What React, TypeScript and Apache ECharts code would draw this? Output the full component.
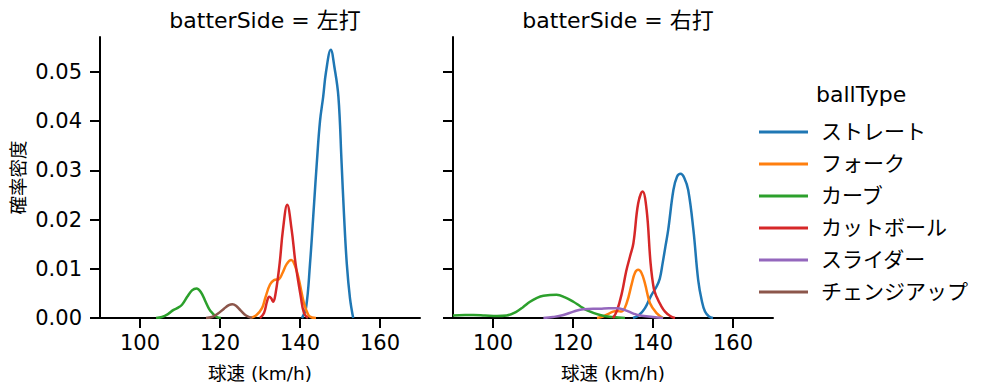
import React, { useEffect, useRef } from "react";
import * as echarts from "echarts";

const panelTitles = ["batterSide = 左打", "batterSide = 右打"];
const ballTypes = ["ストレート", "フォーク", "カーブ", "カットボール", "スライダー", "チェンジアップ"];
const palette = ["#1f77b4", "#ff7f0e", "#2ca02c", "#d62728", "#9467bd", "#8c564b"];
const xTicks = [100, 120, 140, 160];
const yTicks = [0, 0.01, 0.02, 0.03, 0.04, 0.05];

// Left panel (左打)
const leftStraight = [[140.5,0],[141.5,0.002],[142.5,0.011],[143.5,0.023],[144.2,0.0315],[145,0.04],[145.8,0.045],[146.5,0.05],[147.7,0.0545],[148.6,0.051],[149.6,0.045],[150.4,0.0315],[151,0.021],[151.7,0.011],[152.5,0.004],[153.3,0]];
const leftFork = [[127.5,0],[129,0.0005],[130.5,0.002],[131.4,0.0043],[132.5,0.0068],[133.5,0.0077],[134.75,0.0079],[135.6,0.0091],[136.7,0.011],[137.8,0.0118],[138.8,0.0105],[139.75,0.0077],[141,0.003],[142.1,0.0006],[143,0.0001],[144,0]];
const leftCurve = [[104,0],[105.5,0.0002],[107,0.0008],[108.3,0.0016],[109.3,0.002],[110.5,0.0027],[111.8,0.0043],[113,0.0056],[114.1,0.006],[115.2,0.0053],[116.4,0.0033],[117.3,0.0018],[118.1,0.001],[119.2,0.0002],[120.2,0]];
const leftCutter = [[130,0],[131,0.001],[131.8,0.0035],[132.3,0.0043],[132.8,0.004],[133.3,0.0033],[133.9,0.005],[134.9,0.011],[135.75,0.018],[136.8,0.023],[137.9,0.018],[138.9,0.011],[140.2,0.0043],[141,0.001],[142,0]];
const leftChangeup = [[116.5,0],[118,0.0002],[119.5,0.0009],[121,0.0019],[122.2,0.0026],[123.1,0.0028],[124,0.0025],[125.2,0.0015],[126.5,0.0005],[128,0]];

// Right panel (右打)
const rightStraight = [[135,0],[136.5,0.0006],[138,0.002],[139.5,0.0045],[140.9,0.0064],[141.7,0.008],[142.4,0.0111],[143.1,0.0145],[143.8,0.0179],[145.1,0.026],[146,0.0287],[146.9,0.0293],[147.8,0.0285],[148.8,0.026],[150.1,0.0179],[151.3,0.0077],[152.2,0.0035],[153,0.0013],[154,0.0003],[155,0]];
const rightFork = [[126,0],[127.5,0.0003],[129,0.0009],[130,0.0013],[131,0.0014],[132.1,0.0013],[133.4,0.003],[134.7,0.007],[135.5,0.0092],[136.3,0.0098],[137.1,0.0092],[138,0.007],[139.25,0.003],[140.9,0.001],[142.5,0]];
const rightCurve = [[90,0.0005],[93,0.0006],[95.1,0.0006],[98,0.0005],[101,0.0004],[103.4,0.0005],[105.9,0.0013],[107.5,0.0022],[109.25,0.0033],[111,0.0041],[112.6,0.0045],[115.9,0.0047],[118,0.0042],[120.1,0.0033],[121.8,0.0024],[123.4,0.0016],[126.75,0.0006],[130,0.0002],[133,0]];
const rightCutter = [[130,0],[131,0.0015],[132.2,0.005],[133.3,0.0095],[134.25,0.0125],[135.1,0.0152],[136.3,0.0233],[137.4,0.0257],[138.4,0.022],[139.4,0.0111],[140.2,0.006],[140.9,0.0043],[142,0.0025],[143,0.0013],[144.3,0.0004],[145.5,0]];
const rightSlider = [[112.6,0],[115,0.0002],[117.6,0.0006],[120.1,0.0013],[122.6,0.0018],[126.75,0.0019],[129,0.002],[130.9,0.002],[133,0.0016],[135.1,0.0009],[136.75,0.0005],[140,0.0002],[142.5,0]];

const panelSeries: Array<Array<[string, number[][]]>> = [
  [["ストレート", leftStraight], ["フォーク", leftFork], ["カーブ", leftCurve], ["カットボール", leftCutter], ["チェンジアップ", leftChangeup]],
  [["ストレート", rightStraight], ["フォーク", rightFork], ["カーブ", rightCurve], ["カットボール", rightCutter], ["スライダー", rightSlider]],
];

const FONT = "'DejaVu Sans', 'Noto Sans CJK JP', sans-serif";

export default function App() {
  const ref = useRef<HTMLDivElement>(null);
  useEffect(() => {
    document.body.style.margin = "0";
    if (!ref.current) return;
    const chart = echarts.init(ref.current, null, { renderer: "svg" });
    const gridLefts = [100, 453];
    const grids = gridLefts.map((l) => ({ left: l, top: 37, width: 320, height: 281 }));
    const xAxes = gridLefts.map((_, i) => ({
      type: "value",
      gridIndex: i,
      min: 90,
      max: 170,
      name: "球速 (km/h)",
      nameLocation: "middle",
      nameGap: 46,
      nameTextStyle: { fontSize: 18.5, color: "#000", fontFamily: FONT },
      splitLine: { show: false },
      axisLine: { show: true, lineStyle: { color: "#000", width: 2 } },
      axisTick: { show: true, length: 10, lineStyle: { color: "#000", width: 2 }, customValues: xTicks },
      axisLabel: { fontSize: 21, color: "#000", margin: 14, fontFamily: FONT, customValues: xTicks },
    }));
    const yAxes = gridLefts.map((_, i) => ({
      type: "value",
      gridIndex: i,
      min: 0,
      max: 0.0571,
      name: i === 0 ? "確率密度" : "",
      nameLocation: "middle",
      nameGap: 72,
      nameRotate: 90,
      nameTextStyle: { fontSize: 18.5, color: "#000", fontFamily: FONT },
      splitLine: { show: false },
      axisLine: { show: true, lineStyle: { color: "#000", width: 2 } },
      axisTick: { show: true, length: 10, lineStyle: { color: "#000", width: 2 }, customValues: yTicks },
      axisLabel: {
        show: i === 0,
        fontSize: 21,
        color: "#000",
        margin: 18,
        fontFamily: FONT,
        customValues: yTicks,
        formatter: (v: number) => v.toFixed(2),
      },
    }));
    const series: any[] = [];
    panelSeries.forEach((list, pi) => {
      list.forEach(([name, data]) => {
        const c = palette[ballTypes.indexOf(name)];
        series.push({
          type: "line",
          name,
          xAxisIndex: pi,
          yAxisIndex: pi,
          data,
          smooth: 0.4,
          symbol: "none",
          lineStyle: { color: c, width: 2.5 },
          itemStyle: { color: c },
          clip: true,
        });
      });
    });
    chart.setOption({
      animation: false,
      backgroundColor: "#fff",
      grid: grids,
      xAxis: xAxes,
      yAxis: yAxes,
      title: panelTitles.map((t, i) => ({
        text: t,
        left: gridLefts[i] + 160,
        textAlign: "center",
        top: 4,
        textStyle: { fontSize: 22, fontWeight: "normal", color: "#000", fontFamily: FONT },
      })),
      legend: {
        orient: "vertical",
        left: 754,
        top: 115,
        icon: "rect",
        itemWidth: 49,
        itemHeight: 3,
        itemGap: 8.0,
        data: ballTypes,
        textStyle: { fontSize: 21, lineHeight: 24, color: "#000", fontFamily: FONT, padding: [0, 0, 0, 8] },
        selectedMode: false,
      },
      graphic: [
        {
          type: "text",
          left: 816,
          top: 83,
          style: { text: "ballType", fontSize: 22, fill: "#000", fontFamily: FONT },
        },
      ],
      series,
    });
    return () => chart.dispose();
  }, []);
  return <div ref={ref} style={{ width: 999, height: 391 }} />;
}
